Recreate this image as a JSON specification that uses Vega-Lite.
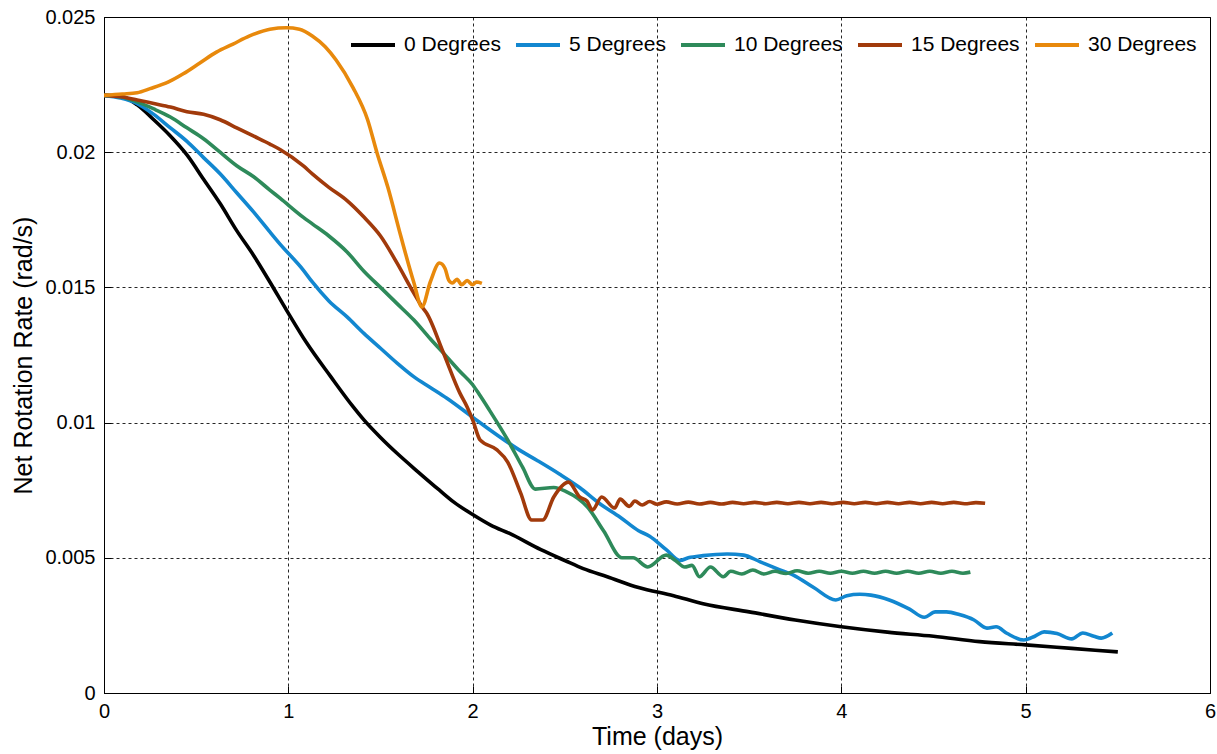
{
  "$schema": "https://vega.github.io/schema/vega-lite/v6.json",
  "width": 1106,
  "height": 676,
  "autosize": {"type": "none"},
  "padding": {"left": 104, "top": 17, "right": 7, "bottom": 61},
  "background": "white",
  "config": {
    "view": {"stroke": "#000", "strokeWidth": 1},
    "font": "Liberation Sans",
    "axis": {
      "grid": true, "gridColor": "#000", "gridDash": [3, 3], "gridOpacity": 0.85, "gridWidth": 1,
      "domainColor": "#000", "tickColor": "#000", "tickSize": -7,
      "labelFont": "Liberation Sans", "labelFontSize": 20, "labelColor": "#000",
      "titleFont": "Liberation Sans", "titleFontSize": 25, "titleFontWeight": "normal", "titleColor": "#000"
    }
  },
  "data": {"values": [
    {"s":"0 Degrees","t":0,"r":0.0221},{"s":"0 Degrees","t":0.1,"r":0.02205},{"s":"0 Degrees","t":0.18,"r":0.02175},{"s":"0 Degrees","t":0.27,"r":0.0212},{"s":"0 Degrees","t":0.36,"r":0.0206},{"s":"0 Degrees","t":0.45,"r":0.0199},{"s":"0 Degrees","t":0.54,"r":0.019},{"s":"0 Degrees","t":0.63,"r":0.0181},{"s":"0 Degrees","t":0.72,"r":0.0171},{"s":"0 Degrees","t":0.81,"r":0.0162},{"s":"0 Degrees","t":0.9,"r":0.0152},{"s":"0 Degrees","t":0.99,"r":0.01416},{"s":"0 Degrees","t":1.1,"r":0.01294},{"s":"0 Degrees","t":1.23,"r":0.0117},{"s":"0 Degrees","t":1.35,"r":0.0106},{"s":"0 Degrees","t":1.41,"r":0.0101},{"s":"0 Degrees","t":1.5,"r":0.00945},{"s":"0 Degrees","t":1.6,"r":0.0088},{"s":"0 Degrees","t":1.7,"r":0.0082},{"s":"0 Degrees","t":1.82,"r":0.0075},{"s":"0 Degrees","t":1.9,"r":0.00705},{"s":"0 Degrees","t":2.0,"r":0.0066},{"s":"0 Degrees","t":2.1,"r":0.0062},{"s":"0 Degrees","t":2.2,"r":0.0059},{"s":"0 Degrees","t":2.37,"r":0.0053},{"s":"0 Degrees","t":2.5,"r":0.0049},{"s":"0 Degrees","t":2.6,"r":0.0046},{"s":"0 Degrees","t":2.73,"r":0.0043},{"s":"0 Degrees","t":2.9,"r":0.0039},{"s":"0 Degrees","t":3.09,"r":0.0036},{"s":"0 Degrees","t":3.25,"r":0.0033},{"s":"0 Degrees","t":3.5,"r":0.003},{"s":"0 Degrees","t":3.75,"r":0.0027},{"s":"0 Degrees","t":4.0,"r":0.00245},{"s":"0 Degrees","t":4.25,"r":0.00225},{"s":"0 Degrees","t":4.5,"r":0.0021},{"s":"0 Degrees","t":4.75,"r":0.0019},{"s":"0 Degrees","t":5.0,"r":0.00178},{"s":"0 Degrees","t":5.25,"r":0.00165},{"s":"0 Degrees","t":5.5,"r":0.00152},

    {"s":"5 Degrees","t":0,"r":0.0221},{"s":"5 Degrees","t":0.09,"r":0.022},{"s":"5 Degrees","t":0.18,"r":0.0218},{"s":"5 Degrees","t":0.27,"r":0.0214},{"s":"5 Degrees","t":0.36,"r":0.0209},{"s":"5 Degrees","t":0.45,"r":0.0204},{"s":"5 Degrees","t":0.54,"r":0.0198},{"s":"5 Degrees","t":0.63,"r":0.0192},{"s":"5 Degrees","t":0.72,"r":0.0185},{"s":"5 Degrees","t":0.81,"r":0.0178},{"s":"5 Degrees","t":0.9,"r":0.01705},{"s":"5 Degrees","t":0.955,"r":0.0166},{"s":"5 Degrees","t":1.08,"r":0.01565},{"s":"5 Degrees","t":1.13,"r":0.0152},{"s":"5 Degrees","t":1.22,"r":0.0145},{"s":"5 Degrees","t":1.32,"r":0.0139},{"s":"5 Degrees","t":1.41,"r":0.0133},{"s":"5 Degrees","t":1.5,"r":0.01275},{"s":"5 Degrees","t":1.59,"r":0.0122},{"s":"5 Degrees","t":1.68,"r":0.0117},{"s":"5 Degrees","t":1.77,"r":0.0113},{"s":"5 Degrees","t":1.86,"r":0.0109},{"s":"5 Degrees","t":2.0,"r":0.0102},{"s":"5 Degrees","t":2.1,"r":0.0097},{"s":"5 Degrees","t":2.25,"r":0.009},{"s":"5 Degrees","t":2.35,"r":0.0086},{"s":"5 Degrees","t":2.47,"r":0.0081},{"s":"5 Degrees","t":2.58,"r":0.0076},{"s":"5 Degrees","t":2.69,"r":0.007},{"s":"5 Degrees","t":2.8,"r":0.0065},{"s":"5 Degrees","t":2.9,"r":0.006},{"s":"5 Degrees","t":2.96,"r":0.0058},{"s":"5 Degrees","t":3.05,"r":0.0053},{"s":"5 Degrees","t":3.125,"r":0.0049},{"s":"5 Degrees","t":3.17,"r":0.005},{"s":"5 Degrees","t":3.25,"r":0.00508},{"s":"5 Degrees","t":3.38,"r":0.00514},{"s":"5 Degrees","t":3.47,"r":0.0051},{"s":"5 Degrees","t":3.56,"r":0.00485},{"s":"5 Degrees","t":3.65,"r":0.0046},{"s":"5 Degrees","t":3.74,"r":0.00436},{"s":"5 Degrees","t":3.85,"r":0.0039},{"s":"5 Degrees","t":3.97,"r":0.00344},{"s":"5 Degrees","t":4.03,"r":0.0036},{"s":"5 Degrees","t":4.1,"r":0.00365},{"s":"5 Degrees","t":4.16,"r":0.00362},{"s":"5 Degrees","t":4.26,"r":0.00344},{"s":"5 Degrees","t":4.37,"r":0.0031},{"s":"5 Degrees","t":4.45,"r":0.0028},{"s":"5 Degrees","t":4.51,"r":0.003},{"s":"5 Degrees","t":4.57,"r":0.003},{"s":"5 Degrees","t":4.64,"r":0.0029},{"s":"5 Degrees","t":4.72,"r":0.0027},{"s":"5 Degrees","t":4.79,"r":0.0024},{"s":"5 Degrees","t":4.84,"r":0.00245},{"s":"5 Degrees","t":4.9,"r":0.0022},{"s":"5 Degrees","t":4.99,"r":0.00196},{"s":"5 Degrees","t":5.05,"r":0.0021},{"s":"5 Degrees","t":5.1,"r":0.00226},{"s":"5 Degrees","t":5.17,"r":0.0022},{"s":"5 Degrees","t":5.25,"r":0.002},{"s":"5 Degrees","t":5.31,"r":0.00222},{"s":"5 Degrees","t":5.37,"r":0.0021},{"s":"5 Degrees","t":5.41,"r":0.00203},{"s":"5 Degrees","t":5.47,"r":0.00222},

    {"s":"10 Degrees","t":0,"r":0.0221},{"s":"10 Degrees","t":0.09,"r":0.02205},{"s":"10 Degrees","t":0.18,"r":0.02186},{"s":"10 Degrees","t":0.27,"r":0.0216},{"s":"10 Degrees","t":0.36,"r":0.0213},{"s":"10 Degrees","t":0.45,"r":0.0209},{"s":"10 Degrees","t":0.54,"r":0.0205},{"s":"10 Degrees","t":0.63,"r":0.02},{"s":"10 Degrees","t":0.72,"r":0.0195},{"s":"10 Degrees","t":0.81,"r":0.0191},{"s":"10 Degrees","t":0.9,"r":0.0186},{"s":"10 Degrees","t":0.955,"r":0.0183},{"s":"10 Degrees","t":1.08,"r":0.0176},{"s":"10 Degrees","t":1.13,"r":0.01735},{"s":"10 Degrees","t":1.22,"r":0.0169},{"s":"10 Degrees","t":1.32,"r":0.0163},{"s":"10 Degrees","t":1.41,"r":0.0156},{"s":"10 Degrees","t":1.5,"r":0.015},{"s":"10 Degrees","t":1.59,"r":0.0144},{"s":"10 Degrees","t":1.68,"r":0.0138},{"s":"10 Degrees","t":1.77,"r":0.0131},{"s":"10 Degrees","t":1.86,"r":0.01243},{"s":"10 Degrees","t":1.93,"r":0.0119},{"s":"10 Degrees","t":2.0,"r":0.0114},{"s":"10 Degrees","t":2.04,"r":0.011},{"s":"10 Degrees","t":2.09,"r":0.01047},{"s":"10 Degrees","t":2.19,"r":0.00936},{"s":"10 Degrees","t":2.27,"r":0.00836},{"s":"10 Degrees","t":2.34,"r":0.00754},{"s":"10 Degrees","t":2.44,"r":0.0076},{"s":"10 Degrees","t":2.51,"r":0.00744},{"s":"10 Degrees","t":2.57,"r":0.0072},{"s":"10 Degrees","t":2.62,"r":0.0069},{"s":"10 Degrees","t":2.71,"r":0.006},{"s":"10 Degrees","t":2.81,"r":0.005},{"s":"10 Degrees","t":2.87,"r":0.005},{"s":"10 Degrees","t":2.95,"r":0.00466},{"s":"10 Degrees","t":3.05,"r":0.0051},{"s":"10 Degrees","t":3.1,"r":0.0049},{"s":"10 Degrees","t":3.15,"r":0.00466},{"s":"10 Degrees","t":3.19,"r":0.00472},{"s":"10 Degrees","t":3.23,"r":0.0043},{"s":"10 Degrees","t":3.29,"r":0.00466},{"s":"10 Degrees","t":3.36,"r":0.0043},{"s":"10 Degrees","t":3.4,"r":0.0045},{"s":"10 Degrees","t":3.46,"r":0.0044},{"s":"10 Degrees","t":3.52,"r":0.00455},{"s":"10 Degrees","t":3.58,"r":0.0044},{"s":"10 Degrees","t":3.64,"r":0.0045},{"s":"10 Degrees","t":3.7,"r":0.00442},{"s":"10 Degrees","t":3.76,"r":0.00452},{"s":"10 Degrees","t":3.82,"r":0.00443},{"s":"10 Degrees","t":3.88,"r":0.0045},{"s":"10 Degrees","t":3.94,"r":0.00443},{"s":"10 Degrees","t":4.0,"r":0.0045},{"s":"10 Degrees","t":4.06,"r":0.00443},{"s":"10 Degrees","t":4.12,"r":0.0045},{"s":"10 Degrees","t":4.18,"r":0.00443},{"s":"10 Degrees","t":4.24,"r":0.0045},{"s":"10 Degrees","t":4.3,"r":0.00443},{"s":"10 Degrees","t":4.36,"r":0.0045},{"s":"10 Degrees","t":4.42,"r":0.00443},{"s":"10 Degrees","t":4.48,"r":0.0045},{"s":"10 Degrees","t":4.54,"r":0.00443},{"s":"10 Degrees","t":4.6,"r":0.0045},{"s":"10 Degrees","t":4.66,"r":0.00443},{"s":"10 Degrees","t":4.7,"r":0.00447},

    {"s":"15 Degrees","t":0,"r":0.0221},{"s":"15 Degrees","t":0.09,"r":0.02205},{"s":"15 Degrees","t":0.18,"r":0.02193},{"s":"15 Degrees","t":0.27,"r":0.0218},{"s":"15 Degrees","t":0.36,"r":0.02167},{"s":"15 Degrees","t":0.45,"r":0.0215},{"s":"15 Degrees","t":0.54,"r":0.0214},{"s":"15 Degrees","t":0.63,"r":0.0212},{"s":"15 Degrees","t":0.72,"r":0.0209},{"s":"15 Degrees","t":0.81,"r":0.0206},{"s":"15 Degrees","t":0.9,"r":0.0203},{"s":"15 Degrees","t":0.955,"r":0.0201},{"s":"15 Degrees","t":1.08,"r":0.0195},{"s":"15 Degrees","t":1.13,"r":0.0192},{"s":"15 Degrees","t":1.22,"r":0.0187},{"s":"15 Degrees","t":1.32,"r":0.0182},{"s":"15 Degrees","t":1.41,"r":0.0176},{"s":"15 Degrees","t":1.5,"r":0.0169},{"s":"15 Degrees","t":1.59,"r":0.0159},{"s":"15 Degrees","t":1.68,"r":0.0148},{"s":"15 Degrees","t":1.73,"r":0.01424},{"s":"15 Degrees","t":1.75,"r":0.01405},{"s":"15 Degrees","t":1.84,"r":0.0126},{"s":"15 Degrees","t":1.93,"r":0.0111},{"s":"15 Degrees","t":1.97,"r":0.01058},{"s":"15 Degrees","t":2.0,"r":0.0101},{"s":"15 Degrees","t":2.04,"r":0.00936},{"s":"15 Degrees","t":2.13,"r":0.009},{"s":"15 Degrees","t":2.19,"r":0.00854},{"s":"15 Degrees","t":2.26,"r":0.0074},{"s":"15 Degrees","t":2.32,"r":0.0064},{"s":"15 Degrees","t":2.38,"r":0.0064},{"s":"15 Degrees","t":2.44,"r":0.00725},{"s":"15 Degrees","t":2.52,"r":0.0078},{"s":"15 Degrees","t":2.58,"r":0.00725},{"s":"15 Degrees","t":2.62,"r":0.0071},{"s":"15 Degrees","t":2.65,"r":0.00677},{"s":"15 Degrees","t":2.7,"r":0.00725},{"s":"15 Degrees","t":2.77,"r":0.00684},{"s":"15 Degrees","t":2.8,"r":0.00717},{"s":"15 Degrees","t":2.85,"r":0.0069},{"s":"15 Degrees","t":2.88,"r":0.0071},{"s":"15 Degrees","t":2.92,"r":0.00695},{"s":"15 Degrees","t":2.96,"r":0.00708},{"s":"15 Degrees","t":3.0,"r":0.00698},{"s":"15 Degrees","t":3.05,"r":0.00707},{"s":"15 Degrees","t":3.11,"r":0.00699},{"s":"15 Degrees","t":3.17,"r":0.00706},{"s":"15 Degrees","t":3.23,"r":0.00699},{"s":"15 Degrees","t":3.29,"r":0.00705},{"s":"15 Degrees","t":3.35,"r":0.00699},{"s":"15 Degrees","t":3.41,"r":0.00705},{"s":"15 Degrees","t":3.47,"r":0.007},{"s":"15 Degrees","t":3.53,"r":0.00705},{"s":"15 Degrees","t":3.59,"r":0.007},{"s":"15 Degrees","t":3.65,"r":0.00705},{"s":"15 Degrees","t":3.71,"r":0.007},{"s":"15 Degrees","t":3.77,"r":0.00705},{"s":"15 Degrees","t":3.83,"r":0.007},{"s":"15 Degrees","t":3.89,"r":0.00705},{"s":"15 Degrees","t":3.95,"r":0.007},{"s":"15 Degrees","t":4.01,"r":0.00705},{"s":"15 Degrees","t":4.07,"r":0.007},{"s":"15 Degrees","t":4.13,"r":0.00705},{"s":"15 Degrees","t":4.19,"r":0.007},{"s":"15 Degrees","t":4.25,"r":0.00705},{"s":"15 Degrees","t":4.31,"r":0.007},{"s":"15 Degrees","t":4.37,"r":0.00705},{"s":"15 Degrees","t":4.43,"r":0.007},{"s":"15 Degrees","t":4.49,"r":0.00705},{"s":"15 Degrees","t":4.55,"r":0.007},{"s":"15 Degrees","t":4.61,"r":0.00705},{"s":"15 Degrees","t":4.67,"r":0.007},{"s":"15 Degrees","t":4.73,"r":0.00704},{"s":"15 Degrees","t":4.78,"r":0.00702},

    {"s":"30 Degrees","t":0,"r":0.0221},{"s":"30 Degrees","t":0.1,"r":0.02215},{"s":"30 Degrees","t":0.18,"r":0.0222},{"s":"30 Degrees","t":0.25,"r":0.02235},{"s":"30 Degrees","t":0.35,"r":0.0226},{"s":"30 Degrees","t":0.43,"r":0.0229},{"s":"30 Degrees","t":0.52,"r":0.0233},{"s":"30 Degrees","t":0.61,"r":0.0237},{"s":"30 Degrees","t":0.7,"r":0.024},{"s":"30 Degrees","t":0.79,"r":0.0243},{"s":"30 Degrees","t":0.9,"r":0.02455},{"s":"30 Degrees","t":0.99,"r":0.0246},{"s":"30 Degrees","t":1.06,"r":0.02455},{"s":"30 Degrees","t":1.13,"r":0.0243},{"s":"30 Degrees","t":1.2,"r":0.0239},{"s":"30 Degrees","t":1.26,"r":0.0234},{"s":"30 Degrees","t":1.35,"r":0.0224},{"s":"30 Degrees","t":1.43,"r":0.0212},{"s":"30 Degrees","t":1.48,"r":0.02},{"s":"30 Degrees","t":1.54,"r":0.0187},{"s":"30 Degrees","t":1.61,"r":0.0169},{"s":"30 Degrees","t":1.68,"r":0.0152},{"s":"30 Degrees","t":1.725,"r":0.01428},{"s":"30 Degrees","t":1.77,"r":0.0152},{"s":"30 Degrees","t":1.82,"r":0.0159},{"s":"30 Degrees","t":1.85,"r":0.0157},{"s":"30 Degrees","t":1.87,"r":0.01527},{"s":"30 Degrees","t":1.89,"r":0.01516},{"s":"30 Degrees","t":1.915,"r":0.0153},{"s":"30 Degrees","t":1.94,"r":0.0151},{"s":"30 Degrees","t":1.97,"r":0.01525},{"s":"30 Degrees","t":2.0,"r":0.0151},{"s":"30 Degrees","t":2.02,"r":0.0152},{"s":"30 Degrees","t":2.05,"r":0.01515}
  ]},
  "mark": {"type": "line", "strokeWidth": 3.6, "clip": true, "interpolate": "monotone"},
  "encoding": {
    "x": {"field": "t", "type": "quantitative", "title": "Time (days)",
      "scale": {"domain": [0, 6], "nice": false},
      "axis": {"values": [0, 1, 2, 3, 4, 5, 6], "format": "d", "labelPadding": 15, "titlePadding": 3, "labelFlush": false}},
    "y": {"field": "r", "type": "quantitative", "title": "Net Rotation Rate (rad/s)",
      "scale": {"domain": [0, 0.025], "nice": false},
      "axis": {"values": [0, 0.005, 0.01, 0.015, 0.02, 0.025], "format": "~g", "labelPadding": 16, "titlePadding": 8, "labelFlush": false}},
    "color": {"field": "s", "type": "nominal",
      "scale": {"domain": ["0 Degrees", "5 Degrees", "10 Degrees", "15 Degrees", "30 Degrees"],
                "range": ["#000000", "#1287d0", "#2e8a5a", "#a13a0b", "#e8890c"]},
      "legend": {"title": null, "orient": "none", "legendX": 245, "legendY": 4, "direction": "horizontal",
        "symbolType": "stroke", "symbolStrokeWidth": 4, "symbolSize": 1936,
        "labelFont": "Liberation Sans", "labelFontSize": 21, "labelColor": "#000", "labelOffset": 7,
        "columnPadding": 7, "padding": 0}
    }
  }
}
